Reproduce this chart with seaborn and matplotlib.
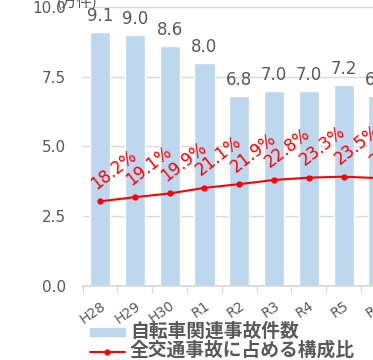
import matplotlib
matplotlib.use("Agg")
import matplotlib.pyplot as plt
import numpy as np
import pandas as pd
import seaborn as sns

years = ["H28", "H29", "H30", "R1", "R2", "R3", "R4", "R5", "R6"]
accidents = [9.1, 9.0, 8.6, 8.0, 6.8, 7.0, 7.0, 7.2, 6.8]  # 万件
share = [18.2, 19.1, 19.9, 21.1, 21.9, 22.8, 23.3, 23.5, 23.2]  # %
bar_name = "自転車関連事故件数"
line_name = "全交通事故に占める構成比"

sns.set_theme(style="white")
plt.rcParams["font.family"] = ["DejaVu Sans", "Noto Sans CJK JP"]

gray = "#595959"
blue = "#BDD7EE"
red = "#FF0000"

df = pd.DataFrame({"year": years, "accidents": accidents, "share": share})

fig = plt.figure(figsize=(3.73, 3.6), dpi=100)
ax = fig.add_axes([0.2215, 0.2056, 0.8397, 0.775])

sns.barplot(data=df, x="year", y="accidents", color=blue, width=0.58,
            saturation=1, ax=ax)
ax.set_ylim(0, 10)
ax.set_xlim(-0.5, len(years) - 0.5)
ax.set_yticks(np.arange(0, 10.1, 2.5))
ax.set_yticklabels([f"{v:.1f}" for v in np.arange(0, 10.1, 2.5)],
                   fontsize=11, color=gray)
ax.set_xlabel("")
ax.set_ylabel("")
ax.yaxis.grid(True, color="#D9D9D9", linewidth=1)
ax.set_axisbelow(True)
for s in ["top", "right", "left"]:
    ax.spines[s].set_visible(False)
ax.spines["bottom"].set_color("#D9D9D9")
ax.tick_params(axis="y", length=0, pad=12)
ax.set_xticks(range(len(years)))
ax.set_xticklabels(years, fontsize=10, color=gray)
for lab in ax.get_xticklabels():
    lab.set_rotation(35)
    lab.set_ha("right")
    lab.set_va("top")
    lab.set_rotation_mode("anchor")
ax.set_xticks(np.arange(-0.5, len(years), 1), minor=True)
ax.tick_params(axis="x", which="major", length=0, pad=9)
ax.tick_params(axis="x", which="minor", length=5, color="#D9D9D9",
               bottom=True, direction="out")

for i, v in enumerate(accidents):
    ax.annotate(f"{v:.1f}", (i, v), xytext=(0, 5), textcoords="offset points",
                ha="center", va="bottom", fontsize=12, color=gray)

ax2 = ax.twinx()
ax2.set_ylim(0, 60)
ax2.plot(range(len(years)), share, color=red, marker="o", markersize=3.5,
         linewidth=1.5)
ax2.axis("off")
for i, v in enumerate(share):
    ax2.annotate(f"{v:.1f}%", (i, v), xytext=(-1, 6), textcoords="offset points",
                 ha="left", va="bottom", rotation=38, rotation_mode="anchor",
                 fontsize=12, color=red)

fig.text(0.153, 0.993, "(万件)", fontsize=11, color=gray, va="center",
         ha="left", family=["Noto Sans CJK JP", "DejaVu Sans"])

# legend drawn manually below the axes
lx0, lx1 = 90 / 373, 125 / 373
fig.patches.append(plt.Rectangle((lx0, 1 - 336 / 360), lx1 - lx0, 8 / 360,
                                 transform=fig.transFigure, color=blue))
fig.lines.append(plt.Line2D([lx0, lx1], [1 - 352 / 360] * 2, transform=fig.transFigure,
                            color=red, linewidth=1.5))
fig.lines.append(plt.Line2D([(lx0 + lx1) / 2], [1 - 352 / 360], transform=fig.transFigure,
                            color=red, marker="o", markersize=3.5))
for y, name in [(331, bar_name), (350, line_name)]:
    fig.text(130 / 373, 1 - y / 360, name, fontsize=13.5, color=gray,
             fontweight="bold", va="center", ha="left",
             family=["Noto Sans CJK JP", "DejaVu Sans"])

fig.savefig("out.png", dpi=100)
